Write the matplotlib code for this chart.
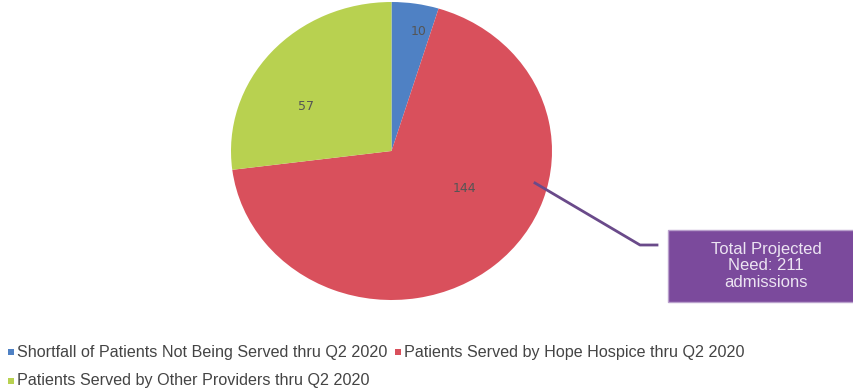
import matplotlib.pyplot as plt
from matplotlib.patches import Rectangle

labels = ["Shortfall of Patients Not Being Served thru Q2 2020",
          "Patients Served by Hope Hospice thru Q2 2020",
          "Patients Served by Other Providers thru Q2 2020"]
values = [10, 144, 57]
colors = ["#4f81c4", "#d9505c", "#b8d150"]
total_text = "Total Projected\nNeed: 211\nadmissions"

W, H = 854, 390
fig = plt.figure(figsize=(W / 100, H / 100), dpi=100)

# pie area, slightly wider than tall like the original
ax = fig.add_axes([231 / W, 1 - 300 / H, 321 / W, 298 / H])
wedges, texts = ax.pie(values, colors=colors, startangle=90, counterclock=False,
                       labels=[str(v) for v in values], labeldistance=0.55,
                       textprops=dict(color="#555555", fontsize=9))
texts[0].set_position((0.12, 0.8))
texts[1].set_position((0.38, -0.25))
texts[2].set_position((-0.48, 0.3))
ax.set_xlim(-1, 1)
ax.set_ylim(-1, 1)
ax.set_aspect("auto")
ax.axis("off")

# callout line and box
def fx(x):
    return x / W

def fy(y):
    return 1 - y / H

fig.add_artist(plt.Line2D([fx(535), fx(640), fx(657)], [fy(183), fy(245), fy(245)],
                          color="#6a4a8a", lw=2, transform=fig.transFigure))
fig.add_artist(Rectangle((fx(668), fy(302)), fx(186), 72 / H, transform=fig.transFigure,
                         facecolor="#7b4a9c", edgecolor="#b9a0cc", lw=1))
fig.text(fx(766), fy(266), total_text, ha="center", va="center", color="#ece4f2",
         fontsize=12, family="Liberation Sans", linespacing=1.15)

# legend
items = [(8, 352, 0), (395, 352, 1), (8, 381, 2)]
for x, y, i in items:
    fig.add_artist(Rectangle((fx(x), fy(y + 3)), 6 / W, 6 / H, transform=fig.transFigure,
                             facecolor=colors[i], edgecolor="none"))
    fig.text(fx(x + 9), fy(y), labels[i], ha="left", va="center", color="#444444",
             fontsize=11.6, family="Liberation Sans")

fig.savefig("out.png", dpi=100)
